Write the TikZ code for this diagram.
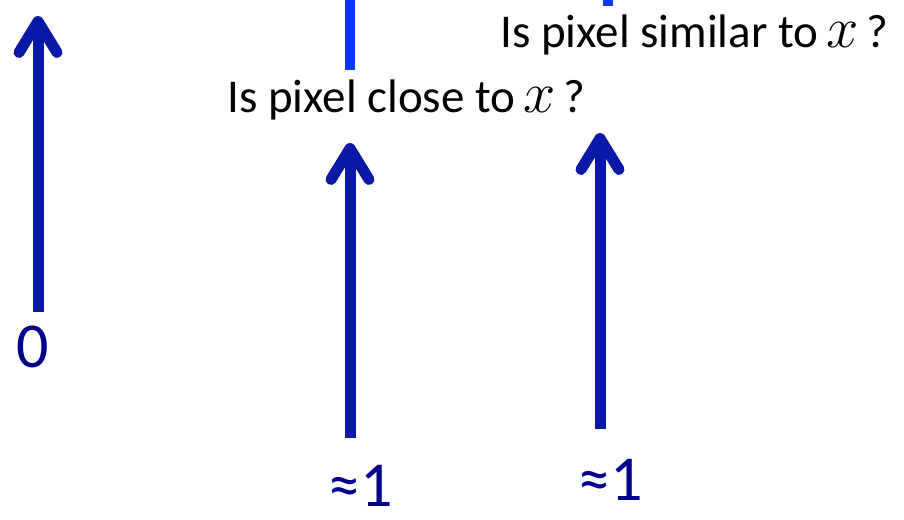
\RequirePackage{fix-cm}
\documentclass[tikz,border=0pt]{standalone}
\usepackage{fontspec}
\setmainfont{Carlito}
\usetikzlibrary{arrows.meta}
\definecolor{navyarrow}{HTML}{0A18A8}
\definecolor{navytext}{HTML}{00008C}
\definecolor{brightblue}{HTML}{0A37FF}
\newcommand{\bigx}{{\fontsize{58}{68}\selectfont$x$}}

\begin{document}
\begin{tikzpicture}[x=1pt, y=-1pt,
    upArrow/.style={draw=navyarrow, line width=11pt, -{Straight Barb[length=31pt, width=38pt, round]}},
    cutBar/.style={draw=brightblue, line width=10pt},
    question/.style={font=\fontsize{47}{56}\selectfont, anchor=base west, inner sep=0pt},
    valueLbl/.style={text=navytext, font=\fontsize{64}{76}\selectfont, anchor=base, inner sep=0pt, text depth=0pt}
]
    \useasboundingbox (0,0) rectangle (904,519);

    % cut-off bars at the top
    \coordinate (barTop) at (350,0);
    \coordinate (barEnd) at (350,70);
    \coordinate (stubTop) at (608,0);
    \coordinate (stubEnd) at (608,6);
    \draw[cutBar] (barTop) -- (barEnd);
    \draw[cutBar] (stubTop) -- (stubEnd);

    % questions
    \node[question] (similarQ) at (500,48) {Is pixel similar to\,\bigx\,?};
    \node[question] (closeQ) at (227,112) {Is pixel close to\,\bigx\,?};

    % arrows
    \coordinate (leftFoot) at (38,312);
    \coordinate (leftTip) at (38,16);
    \coordinate (midFoot) at (350,438);
    \coordinate (midTip) at (350,143);
    \coordinate (rightFoot) at (600,429);
    \coordinate (rightTip) at (600,133);
    \draw[upArrow] (leftFoot) -- (leftTip);
    \draw[upArrow] (midFoot) -- (midTip);
    \draw[upArrow] (rightFoot) -- (rightTip);

    % values
    \node[valueLbl] (zeroVal) at (33,367) {0};
    \node[valueLbl] (midVal) at (361,506) {≈1};
    \node[valueLbl] (rightVal) at (611,500) {≈1};
\end{tikzpicture}
\end{document}
